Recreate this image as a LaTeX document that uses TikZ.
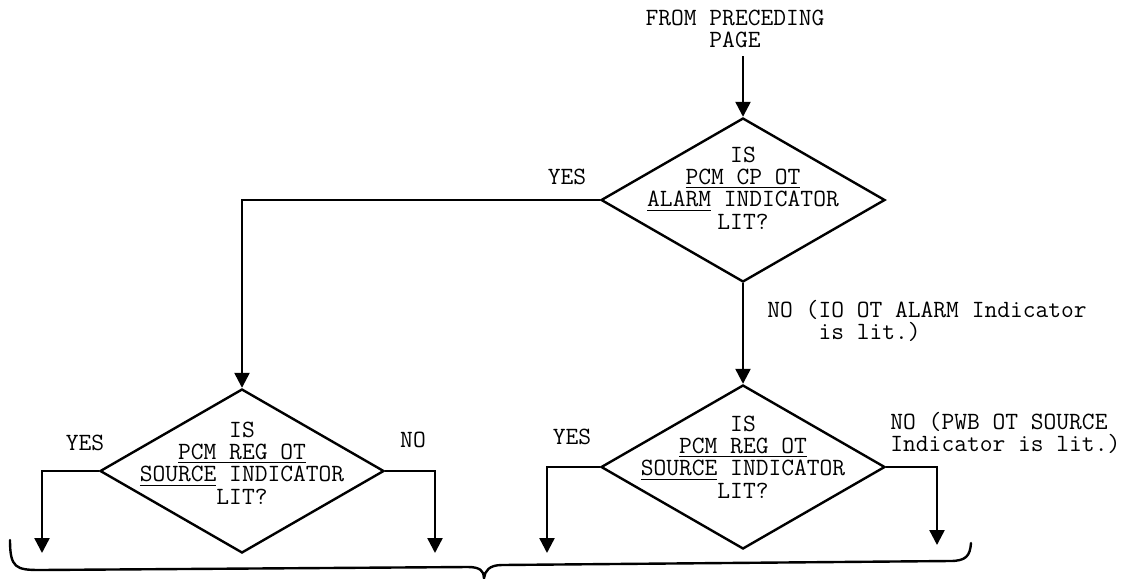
\documentclass[tikz,border=0pt]{standalone}
\usetikzlibrary{arrows.meta, shapes.geometric}

\tikzset{
  decision/.style={diamond, draw, line width=1.2pt, minimum width=142pt, minimum height=82pt, inner sep=0pt},
  qtext/.style={font=\ttfamily\fontsize{12.4}{11.2}\selectfont, align=center, inner sep=0pt},
  lab/.style={font=\ttfamily\fontsize{12.4}{11.2}\selectfont, align=left, inner sep=0pt},
  flow/.style={line width=1.2pt, -{Triangle[length=7.5pt,width=7.5pt]}},
}

\begin{document}
\begin{tikzpicture}[x=0.5pt, y=-0.5pt]
  \useasboundingbox (0,0) rectangle (1144,578);

  % decisions
  \node[decision] (alarm) at (743,200) {};
  \node[decision] (regL) at (242,471) {};
  \node[decision] (regR) at (743,467) {};
  \node[qtext] (alarmtxt) at ([yshift=6pt]alarm.center) {IS\\\underline{PCM CP OT}\\\underline{ALARM} INDICATOR\\LIT?};
  \node[qtext] (regLtxt) at ([yshift=4pt]regL.center) {IS\\\underline{PCM REG OT}\\\underline{SOURCE} INDICATOR\\LIT?};
  \node[qtext] (regRtxt) at ([yshift=5pt]regR.center) {IS\\\underline{PCM REG OT}\\\underline{SOURCE} INDICATOR\\LIT?};

  \node[qtext] (start) at (735,29) {FROM PRECEDING\\PAGE};

  % branch labels
  \node[lab] (yes1) at (567,177) {YES};
  \node[lab, anchor=west] (no1) at (767,321) {NO (IO OT ALARM Indicator\\\phantom{NO (}is lit.)};
  \node[lab] (yes2) at (85,443) {YES};
  \node[lab] (no2) at (413,440) {NO};
  \node[lab] (yes3) at (572,437) {YES};
  \node[lab, anchor=west] (no3) at (890,433) {NO (PWB OT SOURCE\\Indicator is lit.)};

  % free ends
  \coordinate (outY2) at (42,553);
  \coordinate (outN2) at (435,553);
  \coordinate (outY3) at (547,553);
  \coordinate (outN3) at (937,545);

  \draw[flow] ([yshift=-4pt]start.south -| alarm.north) -- (alarm.north);
  \draw[flow] (alarm.west) -| (regL.north);
  \draw[flow] (alarm.south) -- (regR.north);
  \draw[flow] (regL.west) -| (outY2);
  \draw[flow] (regL.east) -| (outN2);
  \draw[flow] (regR.west) -| (outY3);
  \draw[flow] (regR.east) -| (outN3);

  % brace under the outputs
  \draw[line width=1.2pt, line cap=round]
    (10,540) .. controls (10,568) and (16,570) .. (40,570)
    -- (468,567) .. controls (480,567) and (484,571) .. (484,578)
    .. controls (485,571) and (489,565) .. (502,565)
    -- (950,561) .. controls (966,561) and (970,556) .. (971,543);
\end{tikzpicture}
\end{document}
